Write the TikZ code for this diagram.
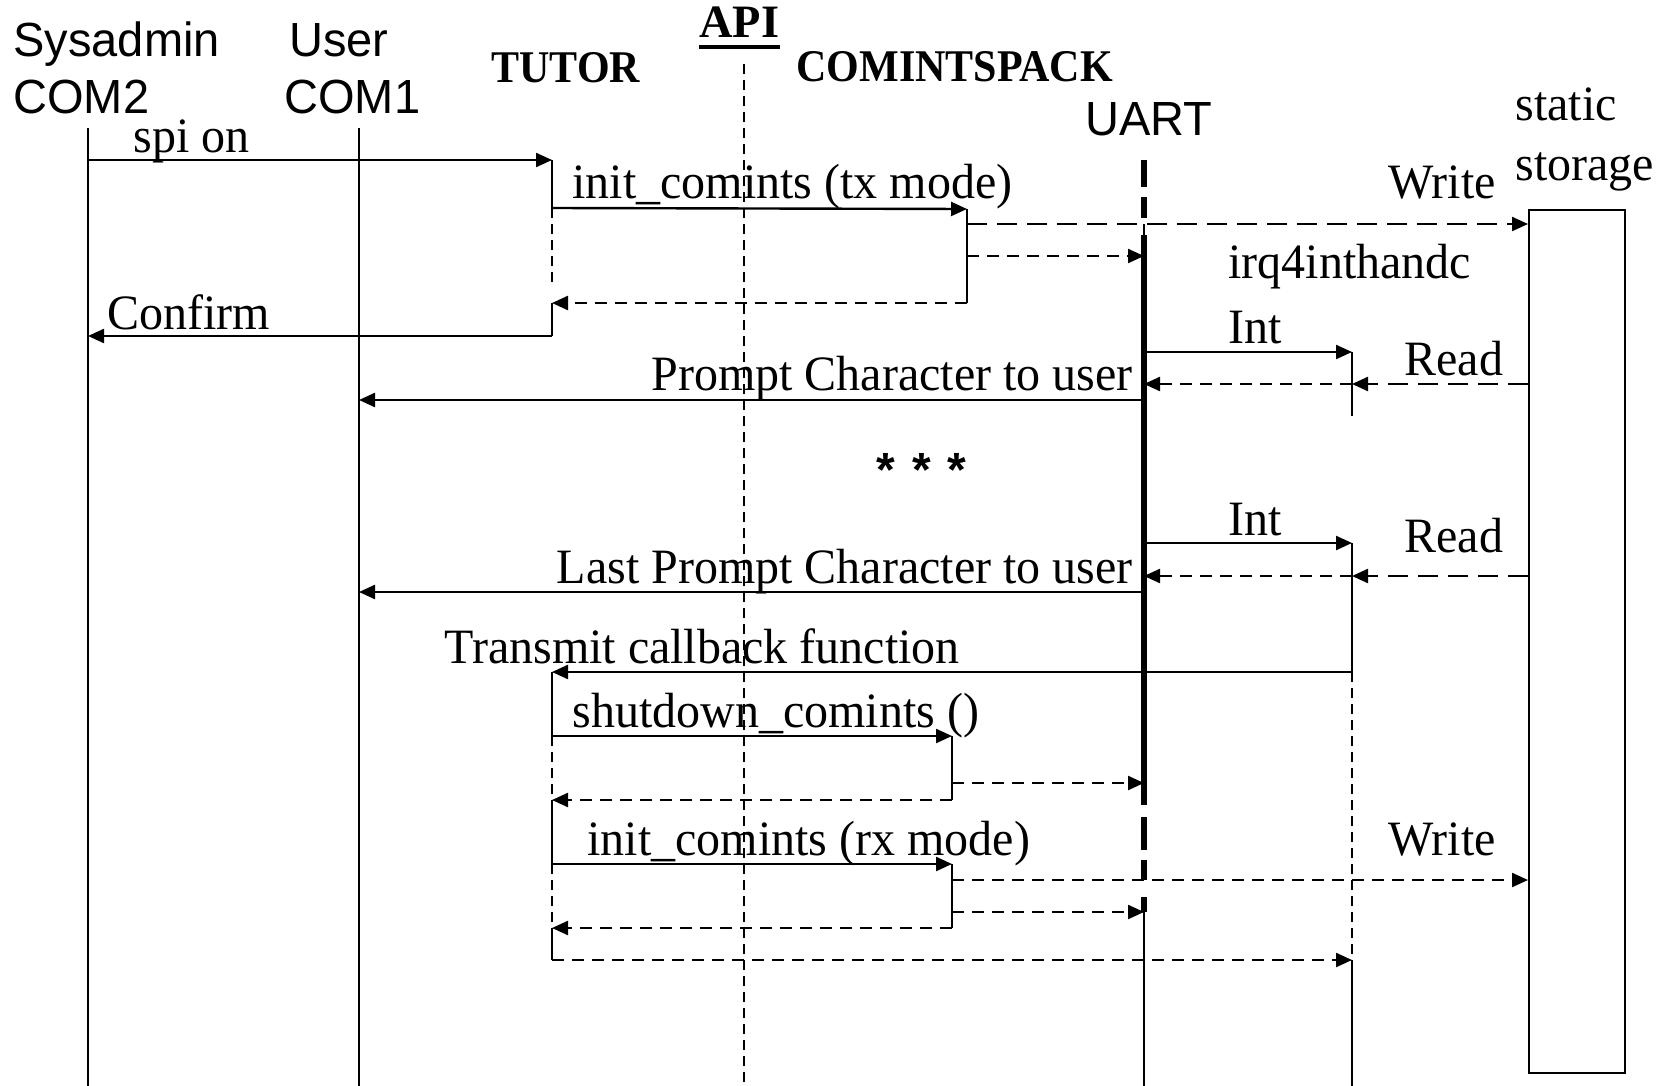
\documentclass[tikz,border=0pt]{standalone}
\usepackage{fontspec}
\usepackage{graphicx}
\setmainfont{Liberation Serif}
\newfontfamily\arialf{Liberation Sans}
\usetikzlibrary{arrows.meta}
\newcommand{\tms}[1]{\scalebox{1}[1.03]{\fontsize{24}{28}\selectfont #1}}
\newcommand{\hdr}[1]{\scalebox{1}[1.02]{\arialf\fontsize{23.5}{28}\selectfont #1}}
\newcommand{\bld}[1]{\scalebox{1}[1.08]{\fontsize{21}{25}\selectfont\bfseries #1}}
\newcommand{\bldL}[1]{{\fontsize{23.2}{28}\selectfont\bfseries #1}}
\begin{document}
\begin{tikzpicture}[x=0.5pt,y=-0.5pt,
  lbl/.style={inner sep=0pt, anchor=base west},
  lblr/.style={inner sep=0pt, anchor=base east},
  lifeline/.style={line width=0.9pt},
  actline/.style={line width=0.9pt},
  waitline/.style={line width=0.9pt, dash pattern=on 5pt off 3pt},
  apiline/.style={line width=0.8pt, dash pattern=on 5pt off 3pt},
  tip/.style={-{Triangle[length=8pt,width=7pt]}},
  msg/.style={line width=1.2pt, tip},
  ret/.style={line width=1.2pt, dash pattern=on 6pt off 4pt, tip},
  longret/.style={line width=1.2pt, dash pattern=on 10pt off 5pt, tip},
  thickl/.style={line width=2.6pt},
  box/.style={line width=1.2pt}
]
\fill[white] (0,0) rectangle (1664,1086);
\useasboundingbox (0,0) rectangle (1664,1086);

% ---------- headers ----------
\node[lbl] (sys1) at (13,57) {\hdr{Sysadmin}};
\node[lbl] (sys2) at (13,113) {\hdr{COM2}};
\node[lbl] (usr1) at (289,57) {\hdr{User}};
\node[lbl] (usr2) at (284,113) {\hdr{COM1}};
\node[lbl] (tutor) at (491,83) {\bld{TUTOR}};
\node[lbl] (api) at (699,38) {\bldL{API}};
\draw[line width=2pt] ([yshift=-4.5pt]api.base west) -- ([yshift=-4.5pt]api.base east);
\node[lbl] (cpack) at (796,82) {\bld{COMINTSPACK}};
\node[lbl] (uart) at (1085,135) {\hdr{UART}};
\node[lbl] (st1) at (1515,120) {\tms{static}};
\node[lbl] (st2) at (1515,180) {\tms{storage}};

% ---------- lifelines ----------
\coordinate (sysT) at (88,128);   \coordinate (sysB) at (88,1086);
\coordinate (usrT) at (359,128);  \coordinate (usrB) at (359,1086);
\coordinate (apiT) at (744,64);   \coordinate (apiB) at (744,1086);
\draw[lifeline] (sysT) -- (sysB);
\draw[lifeline] (usrT) -- (usrB);
\draw[apiline] (apiT) -- (apiB);

% TUTOR activations
\coordinate (t1) at (552,160); \coordinate (t2) at (552,208);
\coordinate (t3) at (552,283); \coordinate (t4) at (552,303);
\coordinate (t5) at (552,336);
\coordinate (t6) at (552,672); \coordinate (t7) at (552,736);
\coordinate (t8) at (552,800); \coordinate (t9) at (552,864);
\coordinate (t10) at (552,928); \coordinate (t11) at (552,960);
\draw[actline] (t1) -- (t2);
\draw[waitline] (t2) -- (t3);
\draw[actline] (t4) -- (t5);
\draw[actline] (t6) -- (t7);
\draw[waitline] (t7) -- (t8);
\draw[actline] (t8) -- (t9);
\draw[waitline] (t9) -- (t10);
\draw[actline] (t10) -- (t11);

% COMINTSPACK activations
\coordinate (c1) at (967,209); \coordinate (c2) at (967,303);
\coordinate (c3) at (952,736); \coordinate (c4) at (952,800);
\coordinate (c5) at (952,864); \coordinate (c6) at (952,928);
\draw[actline] (c1) -- (c2);
\draw[actline] (c3) -- (c4);
\draw[actline] (c5) -- (c6);

% UART lifeline
\coordinate (u0) at (1144,160); \coordinate (u0b) at (1144,187);
\coordinate (u1) at (1144,197); \coordinate (u1b) at (1144,218);
\coordinate (u2) at (1144,224); \coordinate (u3) at (1144,235);
\coordinate (u4) at (1144,805);
\coordinate (u5) at (1144,817); \coordinate (u5b) at (1144,850);
\coordinate (u6) at (1144,860); \coordinate (u6b) at (1144,880);
\coordinate (u7) at (1144,897); \coordinate (u7b) at (1144,912);
\coordinate (u8) at (1144,1086);
\draw[thickl] (u0) -- (u0b);
\draw[thickl] (u1) -- (u1b);
\draw[lifeline] (u2) -- (u3);
\draw[thickl] (u3) -- (u4);
\draw[thickl] (u5) -- (u5b);
\draw[thickl] (u6) -- (u6b);
\draw[thickl] (u7) -- (u7b);
\draw[lifeline] (u7b) -- (u8);

% interrupt handler lifeline
\coordinate (h1) at (1352,352); \coordinate (h2) at (1352,416);
\coordinate (h3) at (1352,543); \coordinate (h4) at (1352,672);
\coordinate (h5) at (1352,960); \coordinate (h6) at (1352,1086);
\draw[lifeline] (h1) -- (h2);
\draw[lifeline] (h3) -- (h4);
\draw[waitline] (h4) -- (h5);
\draw[lifeline] (h5) -- (h6);

% static storage box
\node[box, draw, minimum width=48pt, minimum height=431.5pt, inner sep=0pt, anchor=north west] (store) at (1528,209) {};

% ---------- messages ----------
\coordinate (m1a) at (88,160);
\draw[msg] (m1a) -- (t1);
\node[lbl] (l1) at (133,152) {\tms{spi on}};

\draw[msg] (t2) -- (c1);
\node[lbl] (l2) at (572,198) {\tms{init\_comints (tx mode)}};

\coordinate (w1a) at (967,224); \coordinate (w1b) at (1528,224);
\draw[longret] (w1a) -- (w1b);
\node[lbl] (l3) at (1388,198) {\tms{Write}};

\coordinate (r1a) at (967,256); \coordinate (r1b) at (1144,256);
\draw[ret] (r1a) -- (r1b);

\draw[ret] (c2) -- (t4);

\coordinate (cf) at (88,336);
\draw[msg] (t5) -- (cf);
\node[lbl] (l4) at (107,329) {\tms{Confirm}};

\node[lbl] (l5) at (1228,278) {\tms{irq4inthandc}};

\coordinate (i1a) at (1144,352);
\draw[msg] (i1a) -- (h1);
\node[lbl] (l6) at (1228,343) {\tms{Int}};

\coordinate (rd1a) at (1528,384); \coordinate (rd1b) at (1352,384);
\draw[longret] (rd1a) -- (rd1b);
\node[lbl] (l7) at (1404,375) {\tms{Read}};
\coordinate (rd1c) at (1144,384);
\draw[ret] (rd1b) -- (rd1c);

\coordinate (p1a) at (1144,400); \coordinate (p1b) at (359,400);
\draw[msg] (p1a) -- (p1b);
\node[lblr] (l8) at (1133,390) {\tms{Prompt Character to user}};

\node[lbl] (dots) at (876,486) {\arialf\bfseries\fontsize{24}{28}\selectfont *\hspace{8.5pt}*\hspace{8.5pt}*};

\coordinate (i2a) at (1144,543);
\draw[msg] (i2a) -- (h3);
\node[lbl] (l9) at (1228,535) {\tms{Int}};

\coordinate (rd2a) at (1528,576); \coordinate (rd2b) at (1352,576);
\draw[longret] (rd2a) -- (rd2b);
\node[lbl] (l10) at (1404,552) {\tms{Read}};
\coordinate (rd2c) at (1144,576);
\draw[ret] (rd2b) -- (rd2c);

\coordinate (p2a) at (1144,592); \coordinate (p2b) at (359,592);
\draw[msg] (p2a) -- (p2b);
\node[lblr] (l11) at (1133,583) {\tms{Last Prompt Character to user}};

\draw[msg] (h4) -- (t6);
\node[lbl] (l12) at (444,663) {\tms{Transmit callback function}};

\draw[msg] (t7) -- (c3);
\node[lbl] (l13) at (572,727) {\tms{shutdown\_comints ()}};

\coordinate (s1a) at (952,783); \coordinate (s1b) at (1144,783);
\draw[ret] (s1a) -- (s1b);
\draw[ret] (c4) -- (t8);

\draw[msg] (t9) -- (c5);
\node[lbl] (l14) at (587,855) {\tms{init\_comints (rx mode)}};

\coordinate (w2a) at (952,880); \coordinate (w2b) at (1528,880);
\draw[ret] (w2a) -- (w2b);
\node[lbl] (l15) at (1388,855) {\tms{Write}};

\coordinate (s2a) at (952,912); \coordinate (s2b) at (1144,912);
\draw[ret] (s2a) -- (s2b);
\draw[ret] (c6) -- (t10);

\draw[ret] (t11) -- (h5);
\end{tikzpicture}
\end{document}
